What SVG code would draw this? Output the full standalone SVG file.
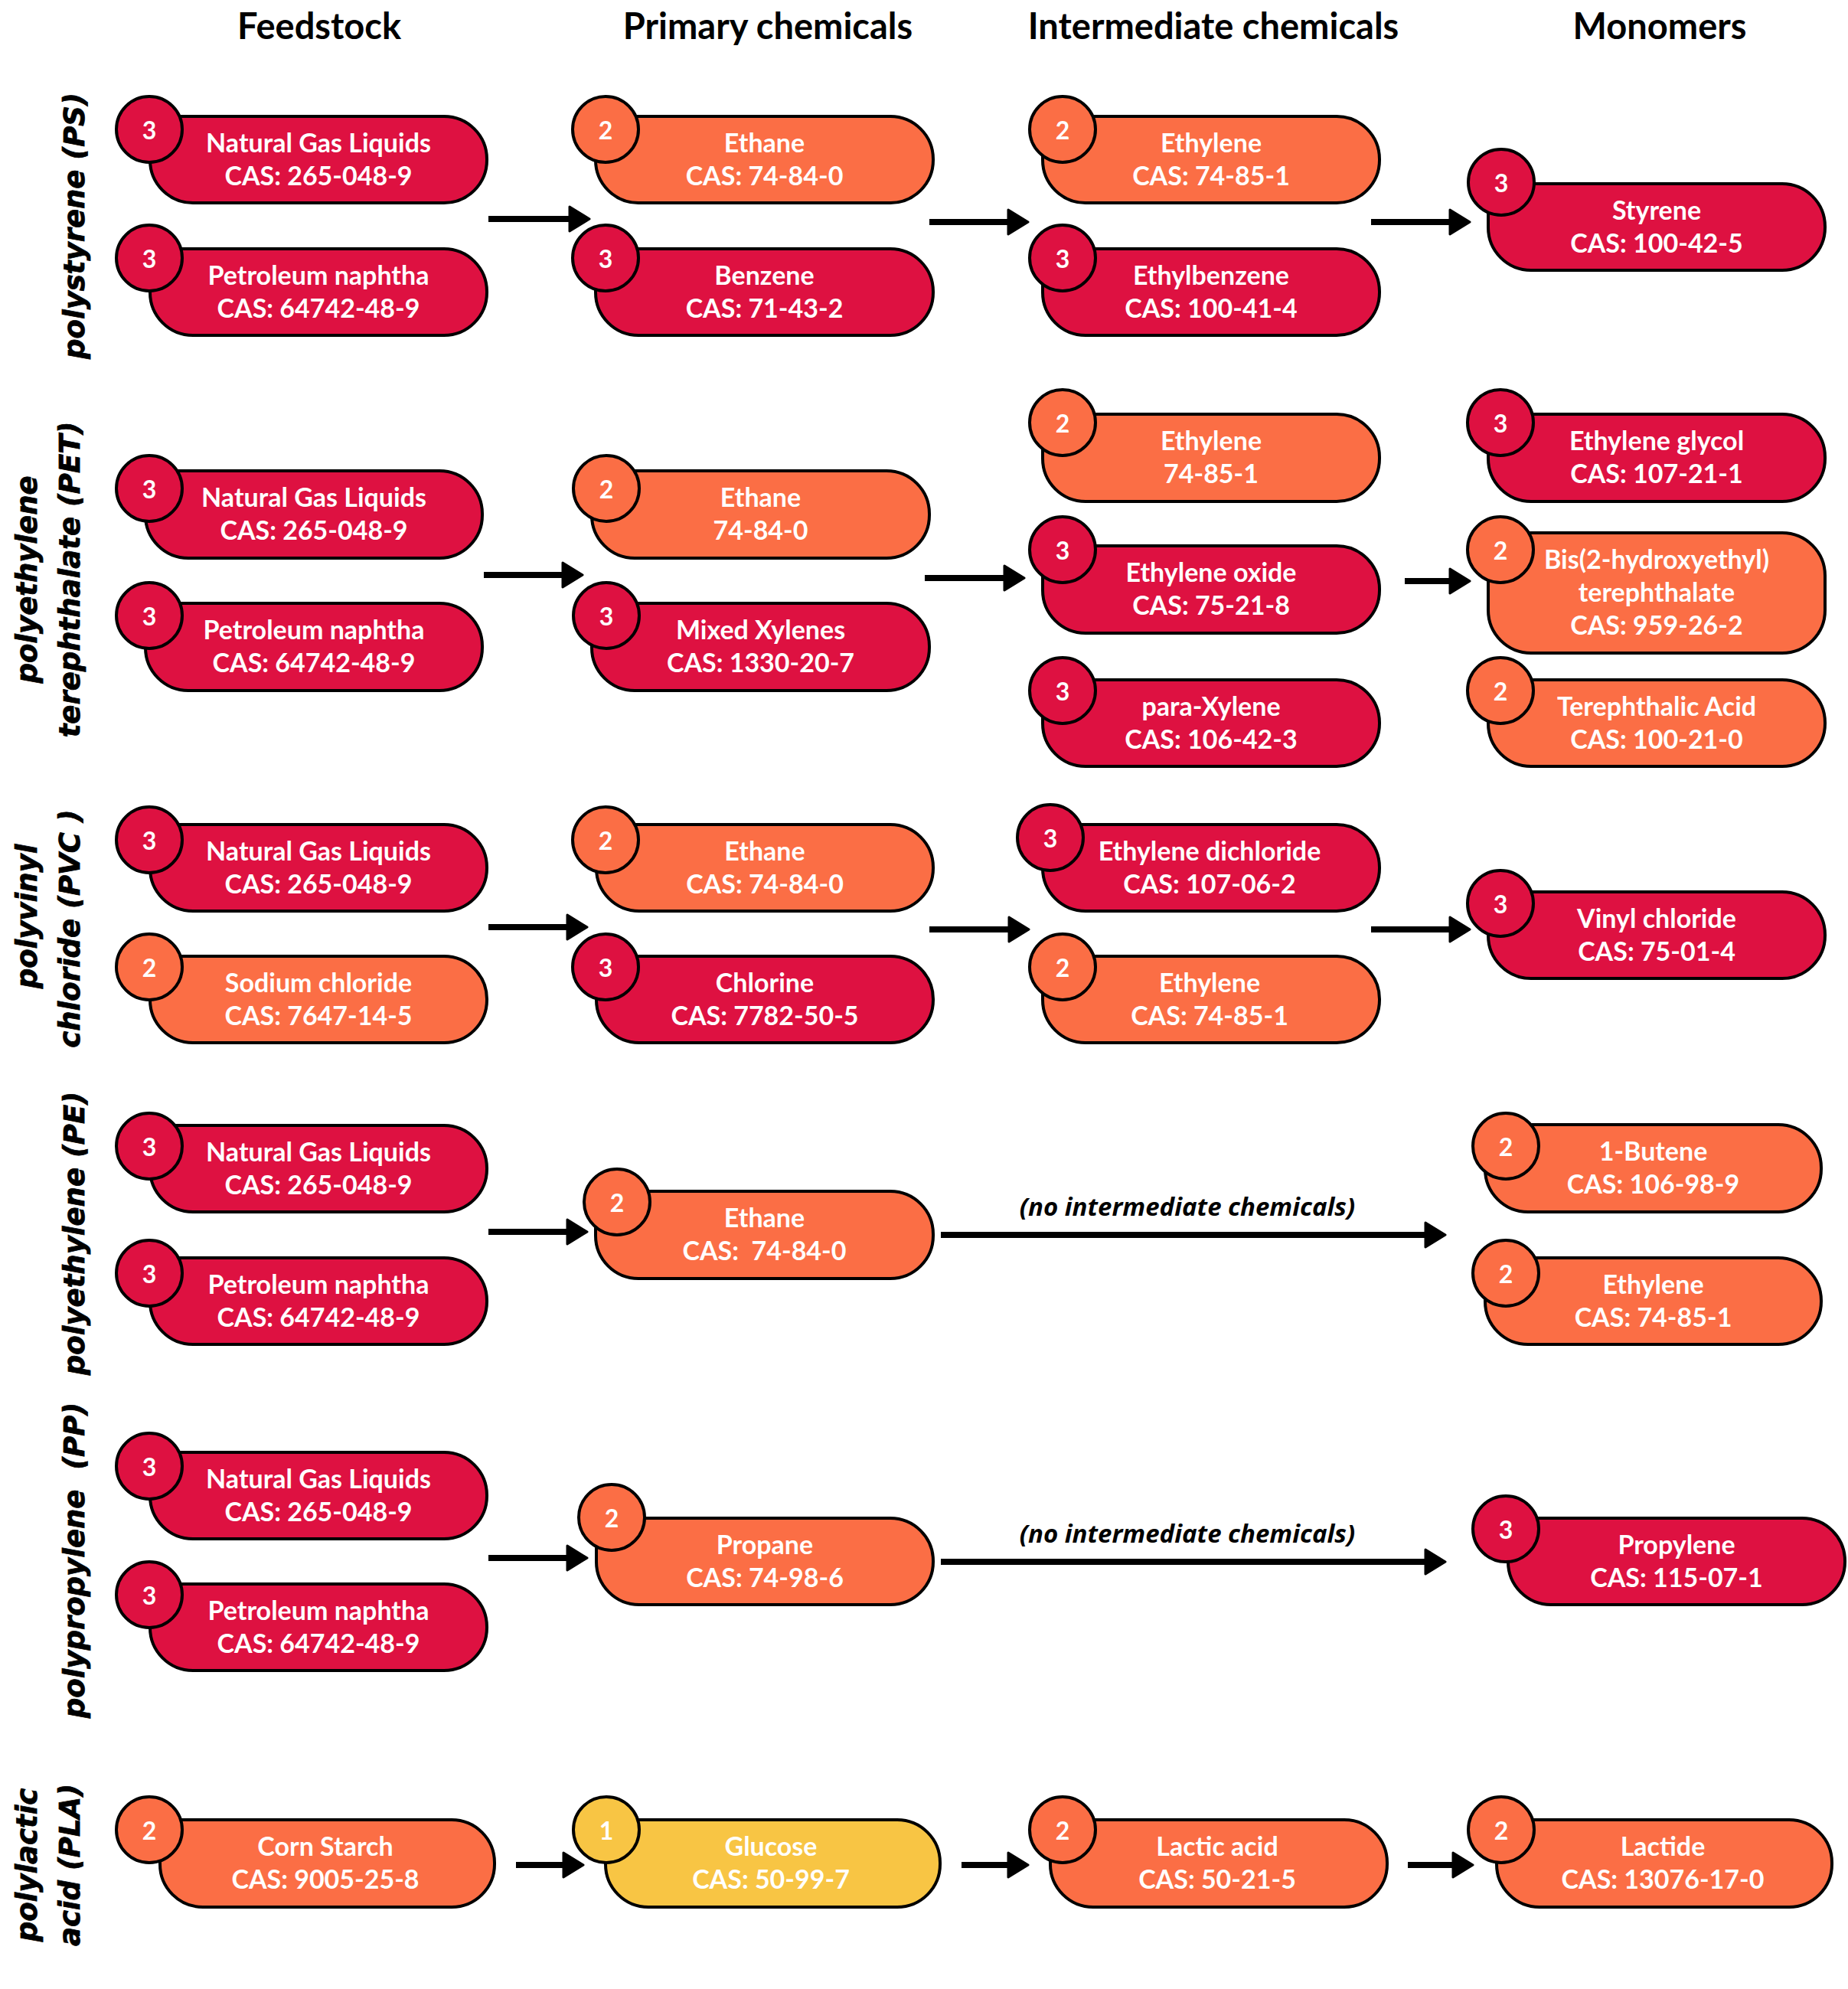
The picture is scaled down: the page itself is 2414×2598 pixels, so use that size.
<svg xmlns="http://www.w3.org/2000/svg" width="2414" height="2598" viewBox="0 0 2414 2598">
  <defs>
    <style>
      .red{fill:#DE1141}
      .orange{fill:#FB6E45}
      .yellow{fill:#F8C544}
      .body,.badge{stroke:#000;stroke-width:4;stroke-linejoin:round}
      .t{font-family:Lato,"Liberation Sans",sans-serif;font-weight:700;font-size:34px;fill:#fff;text-anchor:middle}
      .num{font-family:Lato,"Liberation Sans",sans-serif;font-weight:700;font-size:32px;fill:#fff;text-anchor:middle}
      .hdr{font-family:Lato,"Liberation Sans",sans-serif;font-weight:700;font-size:47px;fill:#000;text-anchor:middle}
      .poly{font-family:"DejaVu Sans",sans-serif;font-weight:700;font-style:italic;font-size:37px;fill:#000;stroke:#000;stroke-width:0.8;text-anchor:middle;white-space:pre}
      .note{font-family:"Open Sans","Liberation Sans",sans-serif;font-weight:700;font-style:italic;font-size:33px;fill:#000;text-anchor:middle}
      .arrow{stroke:#000;stroke-width:8;fill:none;marker-end:url(#head)}
      .pre{white-space:pre}
    </style>
    <marker id="head" viewBox="0 0 30 36" refX="16" refY="18" markerWidth="30" markerHeight="36" markerUnits="userSpaceOnUse" orient="auto">
      <path d="M2,2 L28,18 L2,34 Z" fill="#000" stroke="#000" stroke-width="3" stroke-linejoin="round"/>
    </marker>
  </defs>

  <rect width="2414" height="2598" fill="#fff"/>

  <!-- column headers -->
  <g id="headers">
    <text class="hdr" x="417" y="51">Feedstock</text>
    <text class="hdr" x="1003" y="51">Primary chemicals</text>
    <text class="hdr" x="1585" y="51">Intermediate chemicals</text>
    <text class="hdr" x="2168" y="51">Monomers</text>
  </g>

  <!-- polymer row labels -->
  <g id="row-labels">
    <text class="poly" transform="translate(110,295) rotate(-90)">polystyrene (PS)</text>
    <text class="poly" transform="translate(48,757) rotate(-90)">polyethylene</text>
    <text class="poly" transform="translate(104,757) rotate(-90)">terephthalate (PET)</text>
    <text class="poly" transform="translate(48,1197) rotate(-90)">polyvinyl</text>
    <text class="poly" transform="translate(104,1213) rotate(-90)">chloride (PVC )</text>
    <text class="poly" transform="translate(110,1611) rotate(-90)">polyethylene (PE)</text>
    <text class="poly" transform="translate(110,2038) rotate(-90)">polypropylene  (PP)</text>
    <text class="poly" transform="translate(48,2436) rotate(-90)">polylactic</text>
    <text class="poly" transform="translate(104,2436) rotate(-90)">acid (PLA)</text>
  </g>

  <!-- connectors -->
  <g id="connectors">
    <path class="arrow" d="M638,286 H758"/>
    <path class="arrow" d="M1214,290 H1331"/>
    <path class="arrow" d="M1791,290 H1908"/>

    <path class="arrow" d="M632,751 H749"/>
    <path class="arrow" d="M1208,755 H1326"/>
    <path class="arrow" d="M1835,759 H1908"/>

    <path class="arrow" d="M638,1211 H755"/>
    <path class="arrow" d="M1214,1214 H1332"/>
    <path class="arrow" d="M1791,1214 H1908"/>

    <path class="arrow" d="M638,1609 H755"/>
    <path class="arrow" d="M1229,1613 H1876"/>
    <text class="note" x="1551" y="1588">(no intermediate chemicals)</text>

    <path class="arrow" d="M638,2035 H755"/>
    <path class="arrow" d="M1229,2040 H1876"/>
    <text class="note" x="1551" y="2015">(no intermediate chemicals)</text>

    <path class="arrow" d="M674,2436 H750"/>
    <path class="arrow" d="M1256,2436 H1331"/>
    <path class="arrow" d="M1839,2436 H1912"/>
  </g>

  <!-- polystyrene -->
  <g id="ps-ngl">
    <path class="body red" d="M196,152 H580 A56,56 0 0 1 636,208 V209 A56,56 0 0 1 580,265 H252 A56,56 0 0 1 196,209 Z"/>
    <circle class="badge red" cx="195" cy="169" r="43"/>
    <text class="num" x="195" y="182">3</text>
    <text class="t" x="416" y="198.5">Natural Gas Liquids</text>
    <text class="t" x="416" y="241.5">CAS: 265-048-9</text>
  </g>
  <g id="ps-naphtha">
    <path class="body red" d="M196,325 H580 A56,56 0 0 1 636,381 V382 A56,56 0 0 1 580,438 H252 A56,56 0 0 1 196,382 Z"/>
    <circle class="badge red" cx="195" cy="337" r="43"/>
    <text class="num" x="195" y="350">3</text>
    <text class="t" x="416" y="371.5">Petroleum naphtha</text>
    <text class="t" x="416" y="414.5">CAS: 64742-48-9</text>
  </g>
  <g id="ps-ethane">
    <path class="body orange" d="M778,152 H1163 A56,56 0 0 1 1219,208 V209 A56,56 0 0 1 1163,265 H834 A56,56 0 0 1 778,209 Z"/>
    <circle class="badge orange" cx="791" cy="169" r="43"/>
    <text class="num" x="791" y="182">2</text>
    <text class="t" x="998.5" y="198.5">Ethane</text>
    <text class="t" x="998.5" y="241.5">CAS: 74-84-0</text>
  </g>
  <g id="ps-benzene">
    <path class="body red" d="M778,325 H1163 A56,56 0 0 1 1219,381 V382 A56,56 0 0 1 1163,438 H834 A56,56 0 0 1 778,382 Z"/>
    <circle class="badge red" cx="791" cy="337" r="43"/>
    <text class="num" x="791" y="350">3</text>
    <text class="t" x="998.5" y="371.5">Benzene</text>
    <text class="t" x="998.5" y="414.5">CAS: 71-43-2</text>
  </g>
  <g id="ps-ethylene">
    <path class="body orange" d="M1362,152 H1746 A56,56 0 0 1 1802,208 V209 A56,56 0 0 1 1746,265 H1418 A56,56 0 0 1 1362,209 Z"/>
    <circle class="badge orange" cx="1388" cy="169" r="43"/>
    <text class="num" x="1388" y="182">2</text>
    <text class="t" x="1582" y="198.5">Ethylene</text>
    <text class="t" x="1582" y="241.5">CAS: 74-85-1</text>
  </g>
  <g id="ps-ethylbenzene">
    <path class="body red" d="M1362,325 H1746 A56,56 0 0 1 1802,381 V382 A56,56 0 0 1 1746,438 H1418 A56,56 0 0 1 1362,382 Z"/>
    <circle class="badge red" cx="1388" cy="337" r="43"/>
    <text class="num" x="1388" y="350">3</text>
    <text class="t" x="1582" y="371.5">Ethylbenzene</text>
    <text class="t" x="1582" y="414.5">CAS: 100-41-4</text>
  </g>
  <g id="ps-styrene">
    <path class="body red" d="M1944,240 H2328 A56,56 0 0 1 2384,296 V297 A56,56 0 0 1 2328,353 H2000 A56,56 0 0 1 1944,297 Z"/>
    <circle class="badge red" cx="1961" cy="238" r="43"/>
    <text class="num" x="1961" y="251">3</text>
    <text class="t" x="2164" y="286.5">Styrene</text>
    <text class="t" x="2164" y="329.5">CAS: 100-42-5</text>
  </g>

  <!-- polyethylene terephthalate -->
  <g id="pet-ngl">
    <path class="body red" d="M190,615 H574 A56,56 0 0 1 630,671 V673 A56,56 0 0 1 574,729 H246 A56,56 0 0 1 190,673 Z"/>
    <circle class="badge red" cx="195" cy="638" r="43"/>
    <text class="num" x="195" y="651">3</text>
    <text class="t" x="410" y="662">Natural Gas Liquids</text>
    <text class="t" x="410" y="705">CAS: 265-048-9</text>
  </g>
  <g id="pet-naphtha">
    <path class="body red" d="M190,788 H574 A56,56 0 0 1 630,844 V846 A56,56 0 0 1 574,902 H246 A56,56 0 0 1 190,846 Z"/>
    <circle class="badge red" cx="195" cy="804" r="43"/>
    <text class="num" x="195" y="817">3</text>
    <text class="t" x="410" y="835">Petroleum naphtha</text>
    <text class="t" x="410" y="878">CAS: 64742-48-9</text>
  </g>
  <g id="pet-ethane">
    <path class="body orange" d="M773,615 H1158 A56,56 0 0 1 1214,671 V673 A56,56 0 0 1 1158,729 H829 A56,56 0 0 1 773,673 Z"/>
    <circle class="badge orange" cx="792" cy="638" r="43"/>
    <text class="num" x="792" y="651">2</text>
    <text class="t" x="993.5" y="662">Ethane</text>
    <text class="t" x="993.5" y="705">74-84-0</text>
  </g>
  <g id="pet-xylenes">
    <path class="body red" d="M773,788 H1158 A56,56 0 0 1 1214,844 V846 A56,56 0 0 1 1158,902 H829 A56,56 0 0 1 773,846 Z"/>
    <circle class="badge red" cx="792" cy="804" r="43"/>
    <text class="num" x="792" y="817">3</text>
    <text class="t" x="993.5" y="835">Mixed Xylenes</text>
    <text class="t" x="993.5" y="878">CAS: 1330-20-7</text>
  </g>
  <g id="pet-ethylene">
    <path class="body orange" d="M1362,541 H1746 A56,56 0 0 1 1802,597 V599 A56,56 0 0 1 1746,655 H1418 A56,56 0 0 1 1362,599 Z"/>
    <circle class="badge orange" cx="1388" cy="552" r="43"/>
    <text class="num" x="1388" y="565">2</text>
    <text class="t" x="1582" y="588">Ethylene</text>
    <text class="t" x="1582" y="631">74-85-1</text>
  </g>
  <g id="pet-ethylene-oxide">
    <path class="body red" d="M1362,713 H1746 A56,56 0 0 1 1802,769 V771 A56,56 0 0 1 1746,827 H1418 A56,56 0 0 1 1362,771 Z"/>
    <circle class="badge red" cx="1388" cy="718" r="43"/>
    <text class="num" x="1388" y="731">3</text>
    <text class="t" x="1582" y="760">Ethylene oxide</text>
    <text class="t" x="1582" y="803">CAS: 75-21-8</text>
  </g>
  <g id="pet-paraxylene">
    <path class="body red" d="M1362,888 H1746 A56,56 0 0 1 1802,944 V945 A56,56 0 0 1 1746,1001 H1418 A56,56 0 0 1 1362,945 Z"/>
    <circle class="badge red" cx="1388" cy="902" r="43"/>
    <text class="num" x="1388" y="915">3</text>
    <text class="t" x="1582" y="934.5">para-Xylene</text>
    <text class="t" x="1582" y="977.5">CAS: 106-42-3</text>
  </g>
  <g id="pet-glycol">
    <path class="body red" d="M1944,541 H2328 A56,56 0 0 1 2384,597 V599 A56,56 0 0 1 2328,655 H2000 A56,56 0 0 1 1944,599 Z"/>
    <circle class="badge red" cx="1960" cy="552" r="43"/>
    <text class="num" x="1960" y="565">3</text>
    <text class="t" x="2164" y="588">Ethylene glycol</text>
    <text class="t" x="2164" y="631">CAS: 107-21-1</text>
  </g>
  <g id="pet-bhet">
    <path class="body orange" d="M1944,696 H2328 A56,56 0 0 1 2384,752 V797 A56,56 0 0 1 2328,853 H2000 A56,56 0 0 1 1944,797 Z"/>
    <circle class="badge orange" cx="1960" cy="718" r="43"/>
    <text class="num" x="1960" y="731">2</text>
    <text class="t" x="2164" y="743">Bis(2-hydroxyethyl)</text>
    <text class="t" x="2164" y="786">terephthalate</text>
    <text class="t" x="2164" y="829">CAS: 959-26-2</text>
  </g>
  <g id="pet-terephthalic-acid">
    <path class="body orange" d="M1944,888 H2328 A56,56 0 0 1 2384,944 V945 A56,56 0 0 1 2328,1001 H2000 A56,56 0 0 1 1944,945 Z"/>
    <circle class="badge orange" cx="1960" cy="902" r="43"/>
    <text class="num" x="1960" y="915">2</text>
    <text class="t" x="2164" y="934.5">Terephthalic Acid</text>
    <text class="t" x="2164" y="977.5">CAS: 100-21-0</text>
  </g>

  <!-- polyvinyl chloride -->
  <g id="pvc-ngl">
    <path class="body red" d="M196,1077 H580 A56,56 0 0 1 636,1133 V1134 A56,56 0 0 1 580,1190 H252 A56,56 0 0 1 196,1134 Z"/>
    <circle class="badge red" cx="195" cy="1097" r="43"/>
    <text class="num" x="195" y="1110">3</text>
    <text class="t" x="416" y="1123.5">Natural Gas Liquids</text>
    <text class="t" x="416" y="1166.5">CAS: 265-048-9</text>
  </g>
  <g id="pvc-sodium-chloride">
    <path class="body orange" d="M196,1249 H580 A56,56 0 0 1 636,1305 V1306 A56,56 0 0 1 580,1362 H252 A56,56 0 0 1 196,1306 Z"/>
    <circle class="badge orange" cx="195" cy="1263" r="43"/>
    <text class="num" x="195" y="1276">2</text>
    <text class="t" x="416" y="1295.5">Sodium chloride</text>
    <text class="t" x="416" y="1338.5">CAS: 7647-14-5</text>
  </g>
  <g id="pvc-ethane">
    <path class="body orange" d="M779,1077 H1163 A56,56 0 0 1 1219,1133 V1134 A56,56 0 0 1 1163,1190 H835 A56,56 0 0 1 779,1134 Z"/>
    <circle class="badge orange" cx="791" cy="1097" r="43"/>
    <text class="num" x="791" y="1110">2</text>
    <text class="t" x="999" y="1123.5">Ethane</text>
    <text class="t" x="999" y="1166.5">CAS: 74-84-0</text>
  </g>
  <g id="pvc-chlorine">
    <path class="body red" d="M779,1249 H1163 A56,56 0 0 1 1219,1305 V1306 A56,56 0 0 1 1163,1362 H835 A56,56 0 0 1 779,1306 Z"/>
    <circle class="badge red" cx="791" cy="1263" r="43"/>
    <text class="num" x="791" y="1276">3</text>
    <text class="t" x="999" y="1295.5">Chlorine</text>
    <text class="t" x="999" y="1338.5">CAS: 7782-50-5</text>
  </g>
  <g id="pvc-ethylene-dichloride">
    <path class="body red" d="M1362,1077 H1746 A56,56 0 0 1 1802,1133 V1134 A56,56 0 0 1 1746,1190 H1418 A56,56 0 0 1 1362,1134 Z"/>
    <circle class="badge red" cx="1372" cy="1094" r="43"/>
    <text class="num" x="1372" y="1107">3</text>
    <text class="t" x="1580" y="1123.5">Ethylene dichloride</text>
    <text class="t" x="1580" y="1166.5">CAS: 107-06-2</text>
  </g>
  <g id="pvc-ethylene">
    <path class="body orange" d="M1362,1249 H1746 A56,56 0 0 1 1802,1305 V1306 A56,56 0 0 1 1746,1362 H1418 A56,56 0 0 1 1362,1306 Z"/>
    <circle class="badge orange" cx="1388" cy="1263" r="43"/>
    <text class="num" x="1388" y="1276">2</text>
    <text class="t" x="1580" y="1295.5">Ethylene</text>
    <text class="t" x="1580" y="1338.5">CAS: 74-85-1</text>
  </g>
  <g id="pvc-vinyl-chloride">
    <path class="body red" d="M1944,1165 H2328 A56,56 0 0 1 2384,1221 V1222 A56,56 0 0 1 2328,1278 H2000 A56,56 0 0 1 1944,1222 Z"/>
    <circle class="badge red" cx="1960" cy="1180" r="43"/>
    <text class="num" x="1960" y="1193">3</text>
    <text class="t" x="2164" y="1211.5">Vinyl chloride</text>
    <text class="t" x="2164" y="1254.5">CAS: 75-01-4</text>
  </g>

  <!-- polyethylene -->
  <g id="pe-ngl">
    <path class="body red" d="M196,1470 H580 A56,56 0 0 1 636,1526 V1527 A56,56 0 0 1 580,1583 H252 A56,56 0 0 1 196,1527 Z"/>
    <circle class="badge red" cx="195" cy="1497" r="43"/>
    <text class="num" x="195" y="1510">3</text>
    <text class="t" x="416" y="1516.5">Natural Gas Liquids</text>
    <text class="t" x="416" y="1559.5">CAS: 265-048-9</text>
  </g>
  <g id="pe-naphtha">
    <path class="body red" d="M196,1643 H580 A56,56 0 0 1 636,1699 V1700 A56,56 0 0 1 580,1756 H252 A56,56 0 0 1 196,1700 Z"/>
    <circle class="badge red" cx="195" cy="1663" r="43"/>
    <text class="num" x="195" y="1676">3</text>
    <text class="t" x="416" y="1689.5">Petroleum naphtha</text>
    <text class="t" x="416" y="1732.5">CAS: 64742-48-9</text>
  </g>
  <g id="pe-ethane">
    <path class="body orange" d="M778,1556 H1163 A56,56 0 0 1 1219,1612 V1614 A56,56 0 0 1 1163,1670 H834 A56,56 0 0 1 778,1614 Z"/>
    <circle class="badge orange" cx="806" cy="1570" r="43"/>
    <text class="num" x="806" y="1583">2</text>
    <text class="t" x="998.5" y="1603">Ethane</text>
    <text class="t pre" x="998.5" y="1646">CAS:  74-84-0</text>
  </g>
  <g id="pe-butene">
    <path class="body orange" d="M1940,1469 H2323 A56,56 0 0 1 2379,1525 V1527 A56,56 0 0 1 2323,1583 H1996 A56,56 0 0 1 1940,1527 Z"/>
    <circle class="badge orange" cx="1967" cy="1497" r="43"/>
    <text class="num" x="1967" y="1510">2</text>
    <text class="t" x="2159.5" y="1516">1-Butene</text>
    <text class="t" x="2159.5" y="1559">CAS: 106-98-9</text>
  </g>
  <g id="pe-ethylene">
    <path class="body orange" d="M1940,1643 H2323 A56,56 0 0 1 2379,1699 V1700 A56,56 0 0 1 2323,1756 H1996 A56,56 0 0 1 1940,1700 Z"/>
    <circle class="badge orange" cx="1967" cy="1663" r="43"/>
    <text class="num" x="1967" y="1676">2</text>
    <text class="t" x="2159.5" y="1689.5">Ethylene</text>
    <text class="t" x="2159.5" y="1732.5">CAS: 74-85-1</text>
  </g>

  <!-- polypropylene -->
  <g id="pp-ngl">
    <path class="body red" d="M196,1897 H580 A56,56 0 0 1 636,1953 V1954 A56,56 0 0 1 580,2010 H252 A56,56 0 0 1 196,1954 Z"/>
    <circle class="badge red" cx="195" cy="1915" r="43"/>
    <text class="num" x="195" y="1928">3</text>
    <text class="t" x="416" y="1943.5">Natural Gas Liquids</text>
    <text class="t" x="416" y="1986.5">CAS: 265-048-9</text>
  </g>
  <g id="pp-naphtha">
    <path class="body red" d="M196,2069 H580 A56,56 0 0 1 636,2125 V2126 A56,56 0 0 1 580,2182 H252 A56,56 0 0 1 196,2126 Z"/>
    <circle class="badge red" cx="195" cy="2083" r="43"/>
    <text class="num" x="195" y="2096">3</text>
    <text class="t" x="416" y="2115.5">Petroleum naphtha</text>
    <text class="t" x="416" y="2158.5">CAS: 64742-48-9</text>
  </g>
  <g id="pp-propane">
    <path class="body orange" d="M779,1983 H1163 A56,56 0 0 1 1219,2039 V2040 A56,56 0 0 1 1163,2096 H835 A56,56 0 0 1 779,2040 Z"/>
    <circle class="badge orange" cx="799" cy="1982" r="43"/>
    <text class="num" x="799" y="1995">2</text>
    <text class="t" x="999" y="2029.5">Propane</text>
    <text class="t" x="999" y="2072.5">CAS: 74-98-6</text>
  </g>
  <g id="pp-propylene">
    <path class="body red" d="M1970,1983 H2354 A56,56 0 0 1 2410,2039 V2040 A56,56 0 0 1 2354,2096 H2026 A56,56 0 0 1 1970,2040 Z"/>
    <circle class="badge red" cx="1967" cy="1997" r="43"/>
    <text class="num" x="1967" y="2010">3</text>
    <text class="t" x="2190" y="2029.5">Propylene</text>
    <text class="t" x="2190" y="2072.5">CAS: 115-07-1</text>
  </g>

  <!-- polylactic acid -->
  <g id="pla-corn-starch">
    <path class="body orange" d="M209,2377 H590 A56,56 0 0 1 646,2433 V2435 A56,56 0 0 1 590,2491 H265 A56,56 0 0 1 209,2435 Z"/>
    <circle class="badge orange" cx="195" cy="2390" r="43"/>
    <text class="num" x="195" y="2403">2</text>
    <text class="t" x="425" y="2424">Corn Starch</text>
    <text class="t" x="425" y="2467">CAS: 9005-25-8</text>
  </g>
  <g id="pla-glucose">
    <path class="body yellow" d="M791,2377 H1172 A56,56 0 0 1 1228,2433 V2435 A56,56 0 0 1 1172,2491 H847 A56,56 0 0 1 791,2435 Z"/>
    <circle class="badge yellow" cx="792" cy="2390" r="43"/>
    <text class="num" x="792" y="2403">1</text>
    <text class="t" x="1007" y="2424">Glucose</text>
    <text class="t" x="1007" y="2467">CAS: 50-99-7</text>
  </g>
  <g id="pla-lactic-acid">
    <path class="body orange" d="M1372,2377 H1756 A56,56 0 0 1 1812,2433 V2435 A56,56 0 0 1 1756,2491 H1428 A56,56 0 0 1 1372,2435 Z"/>
    <circle class="badge orange" cx="1388" cy="2390" r="43"/>
    <text class="num" x="1388" y="2403">2</text>
    <text class="t" x="1590" y="2424">Lactic acid</text>
    <text class="t" x="1590" y="2467">CAS: 50-21-5</text>
  </g>
  <g id="pla-lactide">
    <path class="body orange" d="M1955,2377 H2337 A56,56 0 0 1 2393,2433 V2435 A56,56 0 0 1 2337,2491 H2011 A56,56 0 0 1 1955,2435 Z"/>
    <circle class="badge orange" cx="1961" cy="2390" r="43"/>
    <text class="num" x="1961" y="2403">2</text>
    <text class="t" x="2172" y="2424">Lactide</text>
    <text class="t" x="2172" y="2467">CAS: 13076-17-0</text>
  </g>
</svg>
